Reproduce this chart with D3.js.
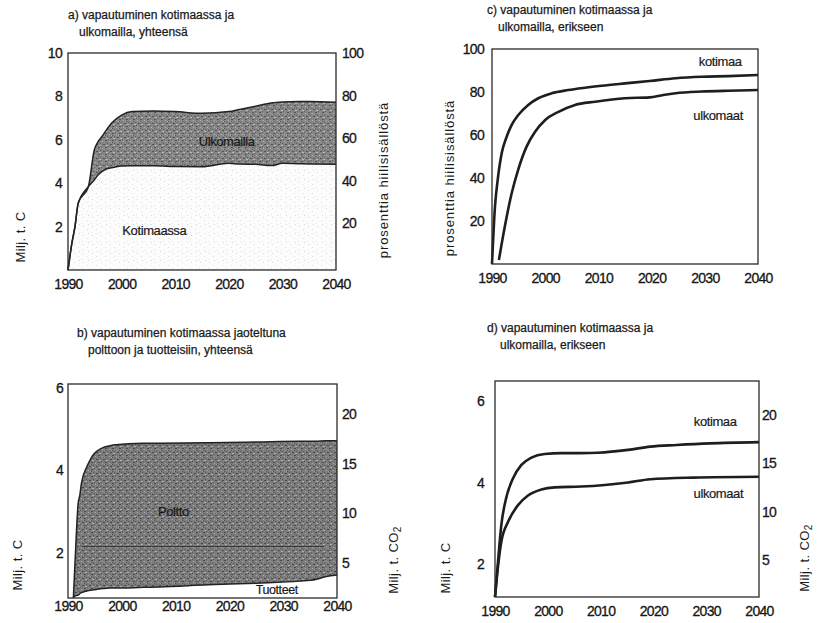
<!DOCTYPE html>
<html>
<head>
<meta charset="utf-8">
<script src="https://cdn.jsdelivr.net/npm/d3@7"></script>
<style>
  body { margin: 0; background: #fff; }
  text { font-family: "Liberation Sans", Arial, sans-serif; fill: #1a1a1a; }
</style>
</head>
<body>
<div class="chart"></div>
<script>
// define svg params
var svgWidth = 819;
var svgHeight = 623;

// shared x ticks
var yearTicks = [1990, 2000, 2010, 2020, 2030, 2040];

// a) vapautuminen kotimaassa ja ulkomailla, yhteensä (milj. t C)
var yearsA = [1990, 1990.7, 1991.3, 1991.9, 1993.8, 1994.9, 1995.6, 1996.3, 1997.5, 1998.1, 2000, 2002, 2006, 2010, 2015, 2020, 2022, 2025, 2028, 2030, 2033, 2035, 2040];
var kotimaassaA = [0, 1.2, 2.0, 3.07, 3.84, 4.15, 4.38, 4.53, 4.69, 4.71, 4.79, 4.8, 4.8, 4.77, 4.76, 4.92, 4.88, 4.87, 4.81, 4.92, 4.9, 4.89, 4.87];
var yhteensaA = [0, 1.2, 2.0, 3.07, 3.84, 5.53, 5.91, 6.14, 6.57, 6.76, 7.14, 7.3, 7.33, 7.3, 7.22, 7.3, 7.4, 7.55, 7.7, 7.74, 7.76, 7.76, 7.73];
var leftTicksA = [2, 4, 6, 8, 10];
var rightTicksA = [20, 40, 60, 80, 100];

// b) kotimaassa: polttoon ja tuotteisiin (milj. t C)
var yearsB = [1991, 1991.3, 1991.9, 1992.2, 1992.5, 1993.5, 1994.1, 1994.7, 1996.6, 1997.8, 1998.4, 2004, 2007, 2016, 2025, 2033, 2036, 2038, 2040];
var tuotteetB = [0.9, 0.95, 0.97, 1.01, 1.03, 1.07, 1.09, 1.1, 1.13, 1.14, 1.14, 1.16, 1.17, 1.22, 1.26, 1.31, 1.35, 1.42, 1.46];
var yhteensaB = [0.9, 1.75, 3.21, 3.4, 3.69, 4.09, 4.25, 4.38, 4.56, 4.6, 4.62, 4.66, 4.66, 4.67, 4.69, 4.71, 4.71, 4.72, 4.72];
var leftTicksB = [2, 4, 6];
var rightTicksB = [5, 10, 15, 20];

// c) erikseen, prosenttia hiilisisällöstä
var yearsCKoti = [1990, 1990.56, 1991.07, 1991.82, 1992.76, 1993.7, 1994.94, 1996.8, 1998.7, 2001.2, 2004.3, 2007.5, 2010.6, 2015, 2019.6, 2024.5, 2029.4, 2034.4, 2040];
var kotimaaC = [0, 26.7, 39.1, 51.5, 59.2, 64.7, 69.3, 74, 77.1, 79.4, 80.9, 82, 82.9, 84, 85.1, 86.4, 87.1, 87.4, 87.9];
var yearsCUlko = [1991.3, 1992.4, 1993.7, 1994.9, 1996.5, 1998.1, 2000, 2002.5, 2005.6, 2009.4, 2015, 2019.6, 2022.2, 2024.5, 2029.4, 2034.4, 2040];
var ulkomaatC = [1.9, 17.3, 32.9, 43.7, 54.6, 61.5, 67, 70.8, 74, 75.5, 77.1, 77.5, 78.6, 79.4, 80.2, 80.6, 80.9];
var leftTicksC = [20, 40, 60, 80, 100];

// d) erikseen, milj. t C
var yearsDKoti = [1990, 1990.57, 1991.2, 1992.1, 1993.4, 1995, 1996.9, 1999.4, 2002.6, 2006.3, 2009.5, 2015.2, 2019.4, 2024.4, 2030.7, 2040];
var kotimaaD = [1.2, 2.07, 2.97, 3.62, 4.11, 4.44, 4.62, 4.71, 4.73, 4.73, 4.74, 4.81, 4.89, 4.93, 4.97, 5.0];
var yearsDUlko = [1990, 1990.4, 1991.2, 1992.5, 1994.4, 1996.25, 1998.8, 2001.3, 2006.3, 2010.8, 2015.2, 2019.4, 2027.6, 2040];
var ulkomaatD = [1.2, 1.74, 2.56, 3.05, 3.46, 3.69, 3.84, 3.89, 3.91, 3.95, 4.01, 4.09, 4.13, 4.15];
var leftTicksD = [2, 4, 6];
var rightTicksD = [5, 10, 15, 20];

// create the svg
var svg = d3.select(".chart")
  .append("svg")
  .attr("width", svgWidth)
  .attr("height", svgHeight);

svg.append("rect").attr("width", svgWidth).attr("height", svgHeight).attr("fill", "#fff");

// stipple patterns (grainy print look)
var defs = svg.append("defs");
function stipple(id, size, base, dots) {
  var p = defs.append("pattern")
    .attr("id", id)
    .attr("width", size)
    .attr("height", size)
    .attr("patternUnits", "userSpaceOnUse");
  p.append("rect").attr("width", size).attr("height", size).attr("fill", base);
  dots.forEach(function(d) {
    p.append("rect")
      .attr("x", d[0]).attr("y", d[1])
      .attr("width", d[3] || 1).attr("height", 1)
      .attr("fill", d[2]);
  });
}
stipple("darkA", 7, "#868686", [[0, 0, "#565656", 2], [4, 1, "#b4b4b4"], [2, 3, "#5e5e5e"], [5, 4, "#525252", 2], [1, 5, "#b8b8b8", 2], [3, 6, "#666"], [6, 2, "#a4a4a4"], [0, 2, "#5a5a5a"]]);
stipple("darkB", 7, "#7c7c7c", [[0, 0, "#4c4c4c", 2], [4, 1, "#a8a8a8"], [2, 3, "#545454"], [5, 4, "#484848", 2], [1, 5, "#acacac", 2], [3, 6, "#5c5c5c"], [6, 2, "#989898"], [0, 2, "#505050"]]);
stipple("lightA", 9, "#fcfcfc", [[2, 1, "#d8d8d8"], [6, 4, "#e0e0e0"], [1, 7, "#e4e4e4"], [7, 8, "#d4d4d4"]]);

function addTitle(x, y, lines) {
  var t = svg.append("text").attr("font-size", 12)
    .attr("stroke", "#1a1a1a").attr("stroke-width", 0.25);
  lines.forEach(function(l, i) {
    t.append("tspan").attr("x", x + l[0]).attr("y", y + i * 17).text(l[1]);
  });
}

function styleTicks(g) {
  g.select(".domain").remove();
  g.selectAll("text").attr("font-size", 14).attr("letter-spacing", "-0.7px")
    .attr("font-family", "Liberation Sans, Arial, sans-serif").attr("fill", "#111")
    .attr("stroke", "#111").attr("stroke-width", 0.3);
}

function bottomAxis(x, yPos) {
  var g = svg.append("g")
    .attr("transform", `translate(0, ${yPos})`)
    .call(d3.axisBottom(x).tickValues(yearTicks).tickSize(0).tickPadding(0).tickFormat(d3.format("d")));
  styleTicks(g);
}

function sideAxis(axisFn, scale, ticks, xPos, pad) {
  var g = svg.append("g")
    .attr("transform", `translate(${xPos}, 0)`)
    .call(axisFn(scale).tickValues(ticks).tickSize(0).tickPadding(pad).tickFormat(d3.format("d")));
  styleTicks(g);
}

function sideLabel(x, y, label, spacing, sub) {
  var t = svg.append("text")
    .attr("transform", `translate(${x}, ${y}) rotate(-90)`)
    .attr("text-anchor", "middle")
    .attr("dy", "0.35em")
    .attr("font-size", 13)
    .attr("letter-spacing", spacing)
    .text(label);
  if (sub) {
    t.append("tspan").attr("font-size", 10).attr("dy", 3).text(sub);
  }
}

function frame(box) {
  svg.append("rect")
    .attr("x", box.left).attr("y", box.top)
    .attr("width", box.right - box.left).attr("height", box.bottom - box.top)
    .attr("fill", "none").attr("stroke", "#2a2a2a").attr("stroke-width", 1.3);
}

function inLabel(x, y, label, size) {
  svg.append("text")
    .attr("x", x).attr("y", y)
    .attr("text-anchor", "middle").attr("dy", "0.35em")
    .attr("font-size", size || 13).attr("letter-spacing", "-0.4px")
    .attr("stroke", "#1a1a1a").attr("stroke-width", 0.2)
    .text(label);
}

// ----------------------------
// Panel a
// ----------------------------
var boxA = { left: 68, right: 336, top: 53, bottom: 270 };
var xA = d3.scaleLinear().domain([1990, 2040]).range([boxA.left, boxA.right]);
var yA = d3.scaleLinear().domain([0, 10]).range([boxA.bottom, boxA.top]);
var yA2 = d3.scaleLinear().domain([-2, 100]).range([boxA.bottom, boxA.top]);

var areaLowA = d3.area().x((d, i) => xA(yearsA[i])).y0(yA(0)).y1(d => yA(d)).curve(d3.curveMonotoneX);
var areaBandA = d3.area().x((d, i) => xA(yearsA[i])).y0((d, i) => yA(kotimaassaA[i])).y1(d => yA(d)).curve(d3.curveMonotoneX);
var lineA = d3.line().x((d, i) => xA(yearsA[i])).y(d => yA(d)).curve(d3.curveMonotoneX);

svg.append("path").attr("d", areaLowA(kotimaassaA)).attr("fill", "url(#lightA)");
svg.append("path").attr("d", areaBandA(yhteensaA)).attr("fill", "url(#darkA)");
svg.append("path").attr("d", lineA(kotimaassaA)).attr("fill", "none").attr("stroke", "#222").attr("stroke-width", 1.5);
svg.append("path").attr("d", lineA(yhteensaA)).attr("fill", "none").attr("stroke", "#222").attr("stroke-width", 1.5);
frame(boxA);
bottomAxis(xA, 279);
sideAxis(d3.axisLeft, yA, leftTicksA, boxA.left, 6);
sideAxis(d3.axisRight, yA2, rightTicksA, boxA.right, 6);
inLabel(xA(2019.6), yA(5.91), "Ulkomailla");
inLabel(xA(2006.1), yA(1.84), "Kotimaassa");
sideLabel(20, 237, "Milj. t. C", "0.4px");
sideLabel(383, 180, "prosenttia hiilisisällöstä", "0.9px");
addTitle(68, 19, [[0, "a) vapautuminen kotimaassa ja"], [11, "ulkomailla, yhteensä"]]);

// ----------------------------
// Panel b
// ----------------------------
var boxB = { left: 68, right: 337, top: 384, bottom: 598 };
var xB = d3.scaleLinear().domain([1990, 2040]).range([boxB.left, boxB.right]);
var yB = d3.scaleLinear().domain([0.9, 6.1]).range([boxB.bottom, boxB.top]);
var yB2 = d3.scaleLinear().domain([1.5, 23]).range([boxB.bottom, boxB.top]);

var areaB = d3.area().x((d, i) => xB(yearsB[i])).y0((d, i) => yB(tuotteetB[i])).y1(d => yB(d)).curve(d3.curveMonotoneX);
var lineB = d3.line().x((d, i) => xB(yearsB[i])).y(d => yB(d)).curve(d3.curveMonotoneX);

svg.append("clipPath").attr("id", "clipB").append("path").attr("d", areaB(yhteensaB));
svg.append("path").attr("d", areaB(yhteensaB)).attr("fill", "url(#darkB)");
// faint printed gridline showing through the fill
svg.append("line")
  .attr("clip-path", "url(#clipB)")
  .attr("x1", xB(1992.5)).attr("x2", xB(2037.6))
  .attr("y1", yB(2.15)).attr("y2", yB(2.15))
  .attr("stroke", "#2a2a2a").attr("stroke-width", 1).attr("opacity", 0.8);
svg.append("path").attr("d", lineB(tuotteetB)).attr("fill", "none").attr("stroke", "#222").attr("stroke-width", 1.5);
svg.append("path").attr("d", lineB(yhteensaB)).attr("fill", "none").attr("stroke", "#222").attr("stroke-width", 1.5);
frame(boxB);
bottomAxis(xB, 601);
sideAxis(d3.axisLeft, yB, leftTicksB, boxB.left, 5);
sideAxis(d3.axisRight, yB2, rightTicksB, boxB.right, 5);
inLabel(xB(2028.8), yB(1.1), "Tuotteet", 12.5);
inLabel(xB(2009.6), yB(3.0), "Poltto");
sideLabel(17, 565, "Milj. t. C", "0.4px");
sideLabel(393, 560, "Milj. t. CO", "0.4px", "2");
addTitle(77, 337, [[0, "b) vapautuminen kotimaassa jaoteltuna"], [11, "polttoon ja tuotteisiin, yhteensä"]]);

// ----------------------------
// Panel c
// ----------------------------
var boxC = { left: 492, right: 758, top: 49, bottom: 264 };
var xC = d3.scaleLinear().domain([1990, 2040]).range([boxC.left, boxC.right]);
var yC = d3.scaleLinear().domain([0, 100]).range([boxC.bottom, boxC.top]);

var lineCK = d3.line().x((d, i) => xC(yearsCKoti[i])).y(d => yC(d)).curve(d3.curveMonotoneX);
var lineCU = d3.line().x((d, i) => xC(yearsCUlko[i])).y(d => yC(d)).curve(d3.curveMonotoneX);
svg.append("path").attr("d", lineCK(kotimaaC)).attr("fill", "none").attr("stroke", "#1e1e1e").attr("stroke-width", 2.6);
svg.append("path").attr("d", lineCU(ulkomaatC)).attr("fill", "none").attr("stroke", "#1e1e1e").attr("stroke-width", 2.6);
frame(boxC);
bottomAxis(xC, 273);
sideAxis(d3.axisLeft, yC, leftTicksC, boxC.left, 8);
inLabel(xC(2032.9), yC(94.1), "kotimaa");
inLabel(xC(2032.5), yC(69.3), "ulkomaat");
sideLabel(449, 178, "prosenttia hiilisisällöstä", "0.9px");
addTitle(487, 14, [[0, "c) vapautuminen kotimaassa ja"], [11, "ulkomailla, erikseen"]]);

// ----------------------------
// Panel d
// ----------------------------
var boxD = { left: 495, right: 759, top: 381, bottom: 597 };
var xD = d3.scaleLinear().domain([1990, 2040]).range([boxD.left, boxD.right]);
var yD = d3.scaleLinear().domain([1.2, 6.5]).range([boxD.bottom, boxD.top]);
var yD2 = d3.scaleLinear().domain([1.2, 23.5]).range([boxD.bottom, boxD.top]);

var lineDK = d3.line().x((d, i) => xD(yearsDKoti[i])).y(d => yD(d)).curve(d3.curveMonotoneX);
var lineDU = d3.line().x((d, i) => xD(yearsDUlko[i])).y(d => yD(d)).curve(d3.curveMonotoneX);
svg.append("path").attr("d", lineDK(kotimaaD)).attr("fill", "none").attr("stroke", "#1e1e1e").attr("stroke-width", 2.6);
svg.append("path").attr("d", lineDU(ulkomaatD)).attr("fill", "none").attr("stroke", "#1e1e1e").attr("stroke-width", 2.6);
frame(boxD);
bottomAxis(xD, 606);
sideAxis(d3.axisLeft, yD, leftTicksD, boxD.left, 11);
sideAxis(d3.axisRight, yD2, rightTicksD, boxD.right, 3);
inLabel(xD(2031.7), yD(5.5), "kotimaa");
inLabel(xD(2032.3), yD(3.74), "ulkomaat");
sideLabel(445, 568, "Milj. t. C", "0.4px");
sideLabel(804, 558, "Milj. t. CO", "0.4px", "2");
addTitle(487, 332, [[0, "d) vapautuminen kotimaassa ja"], [13, "ulkomailla, erikseen"]]);
</script>
</body>
</html>
